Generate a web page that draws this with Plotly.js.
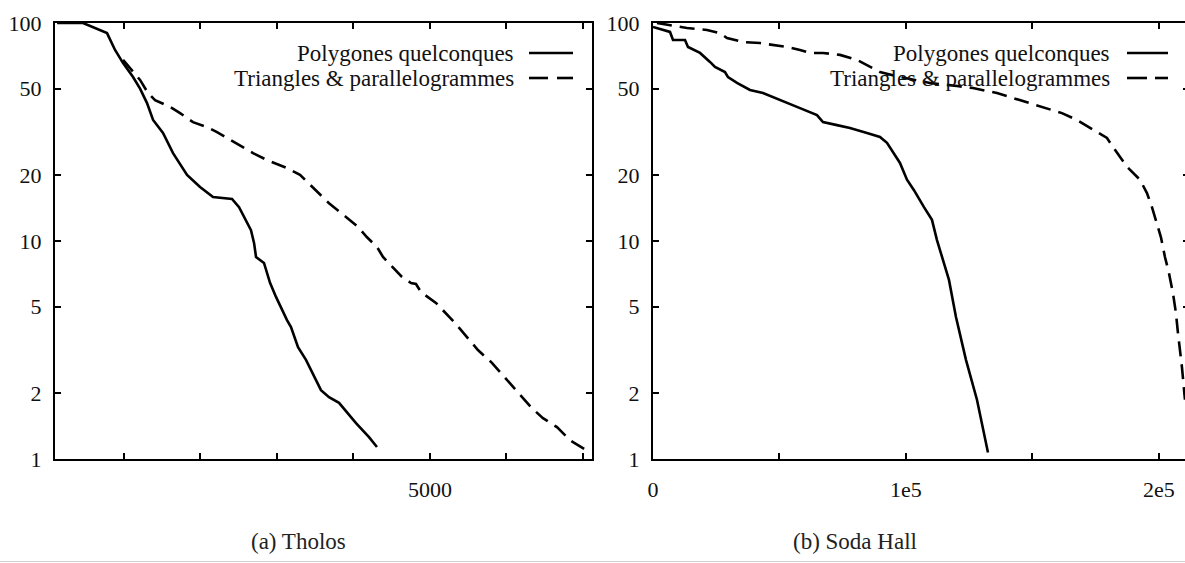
<!DOCTYPE html>
<html>
<head>
<meta charset="utf-8">
<script src="https://cdn.plot.ly/plotly-3.0.1.min.js"></script>
<style>
html,body{margin:0;padding:0;background:#fff;overflow:hidden;}
#chart{width:1190px;height:563px;}
</style>
</head>
<body>
<div id="chart"></div>
<script>
// ---- Data ----
const seriesNames = ["Polygones quelconques", "Triangles &amp; parallelogrammes"];
const captions = ["(a) Tholos", "(b) Soda Hall"];

// (a) Tholos
const tholosPolyX = [125, 465, 778, 883, 988, 1118, 1210, 1301, 1380, 1510, 1641, 1824, 1994, 2164, 2412, 2504, 2660, 2700, 2726, 2830, 2909, 2987, 3131, 3183, 3275, 3379, 3575, 3680, 3811, 4033, 4203, 4307];
const tholosPolyY = [100, 100, 89.9, 75.2, 65.5, 56.5, 50, 42.9, 35.9, 31.3, 25.3, 20.1, 17.7, 15.9, 15.6, 14.3, 11.2, 9.8, 8.45, 7.93, 6.43, 5.54, 4.34, 4.03, 3.26, 2.85, 2.07, 1.92, 1.81, 1.46, 1.26, 1.135];
const tholosTriX = [988, 1118, 1210, 1314, 1406, 1602, 1733, 1902, 2085, 2216, 2386, 2687, 2870, 3131, 3301, 3536, 3680, 3902, 4059, 4177, 4307, 4386, 4529, 4634, 4752, 4817, 4882, 5078, 5327, 5484, 5627, 5810, 5928, 6085, 6229, 6333, 6477, 6660, 6830, 7039];
const tholosTriY = [67.7, 59.6, 54.8, 47.7, 44.3, 41.2, 38.6, 35.1, 33.3, 31.6, 29.1, 25.3, 23.5, 21.6, 20.1, 16.6, 14.9, 12.9, 11.6, 10.4, 9.39, 8.45, 7.52, 6.84, 6.42, 6.35, 5.83, 5.2, 4.21, 3.63, 3.16, 2.76, 2.48, 2.14, 1.87, 1.71, 1.54, 1.4, 1.22, 1.1];

// (b) Soda Hall
const sodaPolyX = [0, 6720, 7906, 12650, 13836, 18580, 22532, 24509, 28462, 29648, 33205, 38344, 43483, 47436, 52970, 58109, 64829, 67201, 72735, 77874, 84594, 89733, 92500, 97639, 100406, 103173, 107126, 110288, 112265, 114637, 117009, 119776, 123729, 128078, 132426];
const sodaPolyY = [95.9, 91.0, 83.6, 83.6, 77.6, 72.9, 66.3, 62.9, 59.6, 56.5, 53.1, 49.3, 47.7, 45.8, 42.9, 40.7, 37.8, 35.1, 34.0, 33.0, 31.3, 30.0, 28.2, 22.8, 19.1, 17.1, 14.3, 12.5, 10.1, 8.18, 6.63, 4.48, 2.85, 1.87, 1.07];
const sodaTriX = [1581, 6720, 13440, 21346, 26485, 29252, 35577, 42297, 49017, 52970, 58109, 62062, 67201, 73921, 80641, 85780, 89733, 97639, 109498, 120171, 126496, 135983, 145075, 154167, 161678, 167607, 173932, 179466, 181838, 187372, 192511, 195278, 197255, 199231, 200813, 202394, 203975, 205556, 206742, 207533, 209114, 210300];
const sodaTriY = [100, 97.9, 94.9, 92.9, 89.9, 85.3, 81.8, 80.9, 79.2, 77.6, 75.2, 72.9, 72.9, 71.4, 67.7, 62.9, 59.6, 56.5, 53.1, 51.4, 50.3, 47.7, 44.3, 41.2, 38.6, 35.9, 32.3, 29.7, 27.0, 21.9, 19.1, 16.6, 14.3, 12.1, 10.4, 8.45, 7.13, 5.77, 4.67, 3.79, 2.64, 1.87];

// Tick labels
const yTickVals = [1, 2, 5, 10, 20, 50, 100];
const yTickText = ["1", "2", "5", "10", "20", "50", "100"];
const leftXTickVals = [1000, 2000, 3000, 4000, 5000, 6000, 7000];
const leftXTickText = ["", "", "", "", "5000", "", ""];
const rightXTickVals = [0, 50000, 100000, 150000, 200000];
const rightXTickText = ["0", "", "1e5", "", "2e5"];

// ---- Layout helpers ----
const W = 1190, H = 563;
const px = v => v / W;
const py = v => 1 - v / H;
const FONT = "Liberation Serif";

const lineSolid = {color: "#000", width: 2.6};
const lineDash = {color: "#000", width: 2.6, dash: "15px,8px"};

const traces = [
  {x: tholosPolyX, y: tholosPolyY, xaxis: "x", yaxis: "y", mode: "lines", line: lineSolid, name: "Polygones quelconques", showlegend: false},
  {x: tholosTriX, y: tholosTriY, xaxis: "x", yaxis: "y", mode: "lines", line: lineDash, name: "Triangles & parallelogrammes", showlegend: false},
  {x: sodaPolyX, y: sodaPolyY, xaxis: "x2", yaxis: "y2", mode: "lines", line: lineSolid, name: "Polygones quelconques", showlegend: false},
  {x: sodaTriX, y: sodaTriY, xaxis: "x2", yaxis: "y2", mode: "lines", line: lineDash, name: "Triangles & parallelogrammes", showlegend: false}
];

const axisCommon = {
  showgrid: false, zeroline: false, showline: true, linecolor: "#000", linewidth: 2,
  ticks: "inside", ticklen: 6, tickwidth: 2, tickcolor: "#000", mirror: "allticks",
  tickfont: {family: FONT, size: 22, color: "#111"}, fixedrange: true
};
const yDomain = [1 - 459 / H, 1 - 23 / H];

const layout = {
  width: W, height: H,
  margin: {l: 0, r: 0, t: 0, b: 0},
  paper_bgcolor: "#fff", plot_bgcolor: "#fff",
  font: {family: FONT, size: 22, color: "#111"},
  showlegend: false,
  xaxis: Object.assign({}, axisCommon, {
    domain: [px(55), px(592)], range: [98, 7118],
    tickmode: "array", tickvals: leftXTickVals, ticktext: leftXTickText,
    ticklabelstandoff: 10, anchor: "y"
  }),
  yaxis: Object.assign({}, axisCommon, {
    domain: yDomain, type: "log", range: [0, 2],
    tickmode: "array", tickvals: yTickVals, ticktext: yTickText,
    ticklabelstandoff: 7, anchor: "x"
  }),
  xaxis2: Object.assign({}, axisCommon, {
    domain: [px(653), px(1189)], range: [0, 211900],
    tickmode: "array", tickvals: rightXTickVals, ticktext: rightXTickText,
    ticklabelstandoff: 10, anchor: "y2"
  }),
  yaxis2: Object.assign({}, axisCommon, {
    domain: yDomain, type: "log", range: [0, 2],
    tickmode: "array", tickvals: yTickVals, ticktext: yTickText,
    ticklabelstandoff: 7, anchor: "x2"
  }),
  annotations: [],
  shapes: []
};

// Legends (key drawn inside each panel, text right-aligned, sample on the right)
const keys = [
  {textRight: 516, sample: [529, 573], dashSegs: [[529, 548], [557, 573]]},
  {textRight: 1112, sample: [1127, 1168], dashSegs: [[1127, 1147], [1155, 1168]]}
];
const rowsY = [53, 78];
keys.forEach(k => {
  seriesNames.forEach((name, i) => {
    layout.annotations.push({
      xref: "paper", yref: "paper", x: px(k.textRight), y: py(rowsY[i]),
      xanchor: "right", yanchor: "middle", showarrow: false, text: name,
      font: {family: FONT, size: 23, color: "#111"}, bgcolor: "rgba(0,0,0,0)"
    });
  });
  layout.shapes.push({type: "line", xref: "paper", yref: "paper",
    x0: px(k.sample[0]), x1: px(k.sample[1]), y0: py(rowsY[0]), y1: py(rowsY[0]),
    line: {color: "#000", width: 2.6}});
  k.dashSegs.forEach(s => layout.shapes.push({type: "line", xref: "paper", yref: "paper",
    x0: px(s[0]), x1: px(s[1]), y0: py(rowsY[1]), y1: py(rowsY[1]),
    line: {color: "#000", width: 2.6}}));
});

// Captions
[[298, captions[0]], [855, captions[1]]].forEach(c => {
  layout.annotations.push({
    xref: "paper", yref: "paper", x: px(c[0]), y: py(541),
    xanchor: "center", yanchor: "middle", showarrow: false, text: c[1],
    font: {family: FONT, size: 23, color: "#222"}
  });
});

// faint page edge line at the bottom of the scan
layout.shapes.push({type: "line", xref: "paper", yref: "paper",
  x0: 0, x1: px(1185), y0: py(561.5), y1: py(561.5), line: {color: "#d0d0d0", width: 1}});

Plotly.newPlot("chart", traces, layout, {staticPlot: true, displayModeBar: false});
</script>
</body>
</html>
